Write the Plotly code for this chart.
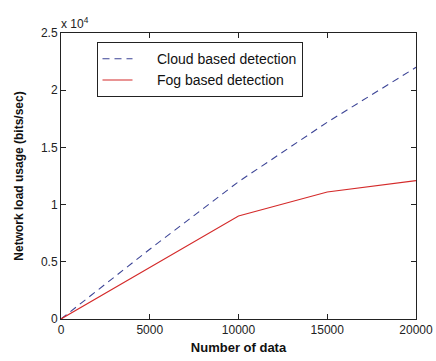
import plotly.graph_objects as go

# Number of data points processed
num_data = [0, 5000, 10000, 15000, 20000]
# Network load usage (bits/sec)
cloud_load = [0, 6100, 12000, 17200, 22000]
fog_load = [0, 4500, 9000, 11100, 12100]

x_ticks = [0, 5000, 10000, 15000, 20000]
y_ticks = [0, 5000, 10000, 15000, 20000, 25000]
y_tick_text = ["0", "0.5", "1", "1.5", "2", "2.5"]

font_family = "Liberation Sans, Arial, sans-serif"
pad = "\u00a0" * 5  # extra room after the legend line samples

fig = go.Figure()
fig.add_trace(go.Scatter(
    x=num_data, y=cloud_load, mode="lines",
    name=pad + "Cloud based detection",
    line=dict(color="#3c4496", width=1.1, dash="7px,5px"),
))
fig.add_trace(go.Scatter(
    x=num_data, y=fog_load, mode="lines",
    name=pad + "Fog based detection",
    line=dict(color="#d42a2a", width=1.1),
))

axis_common = dict(
    showgrid=False, zeroline=False, automargin=False,
    showline=True, linecolor="#222", linewidth=1,
    mirror="ticks", ticks="inside", ticklen=5, tickcolor="#222",
    tickfont=dict(family=font_family, size=12, color="#222"),
)

fig.update_xaxes(
    range=[0, 20000], tickvals=x_ticks,
    ticktext=[str(v) for v in x_ticks],
    title=dict(text="<b>Number of data</b>", standoff=6,
               font=dict(family=font_family, size=13, color="#111")),
    **axis_common,
)
fig.update_yaxes(
    range=[0, 25000], tickvals=y_ticks, ticktext=y_tick_text,
    title=dict(text="<b>Network load usage (bits/sec)</b>", standoff=14,
               font=dict(family=font_family, size=12, color="#111")),
    **axis_common,
)

fig.add_annotation(
    x=0, y=1, xref="paper", yref="paper", xanchor="left", yanchor="bottom",
    text="x 10<sup>4</sup>", showarrow=False, xshift=-2, yshift=0,
    font=dict(family=font_family, size=12, color="#222"),
)

fig.update_layout(
    width=436, height=361,
    margin=dict(l=61, r=20, t=33, b=42),
    paper_bgcolor="white", plot_bgcolor="white",
    showlegend=True,
    legend=dict(
        x=0.1, y=0.968, xanchor="left", yanchor="top",
        bgcolor="white", bordercolor="#222", borderwidth=1,
        font=dict(family=font_family, size=14, color="#111"),
        tracegroupgap=0, itemwidth=30,
    ),
)

fig.write_html("out.html")
